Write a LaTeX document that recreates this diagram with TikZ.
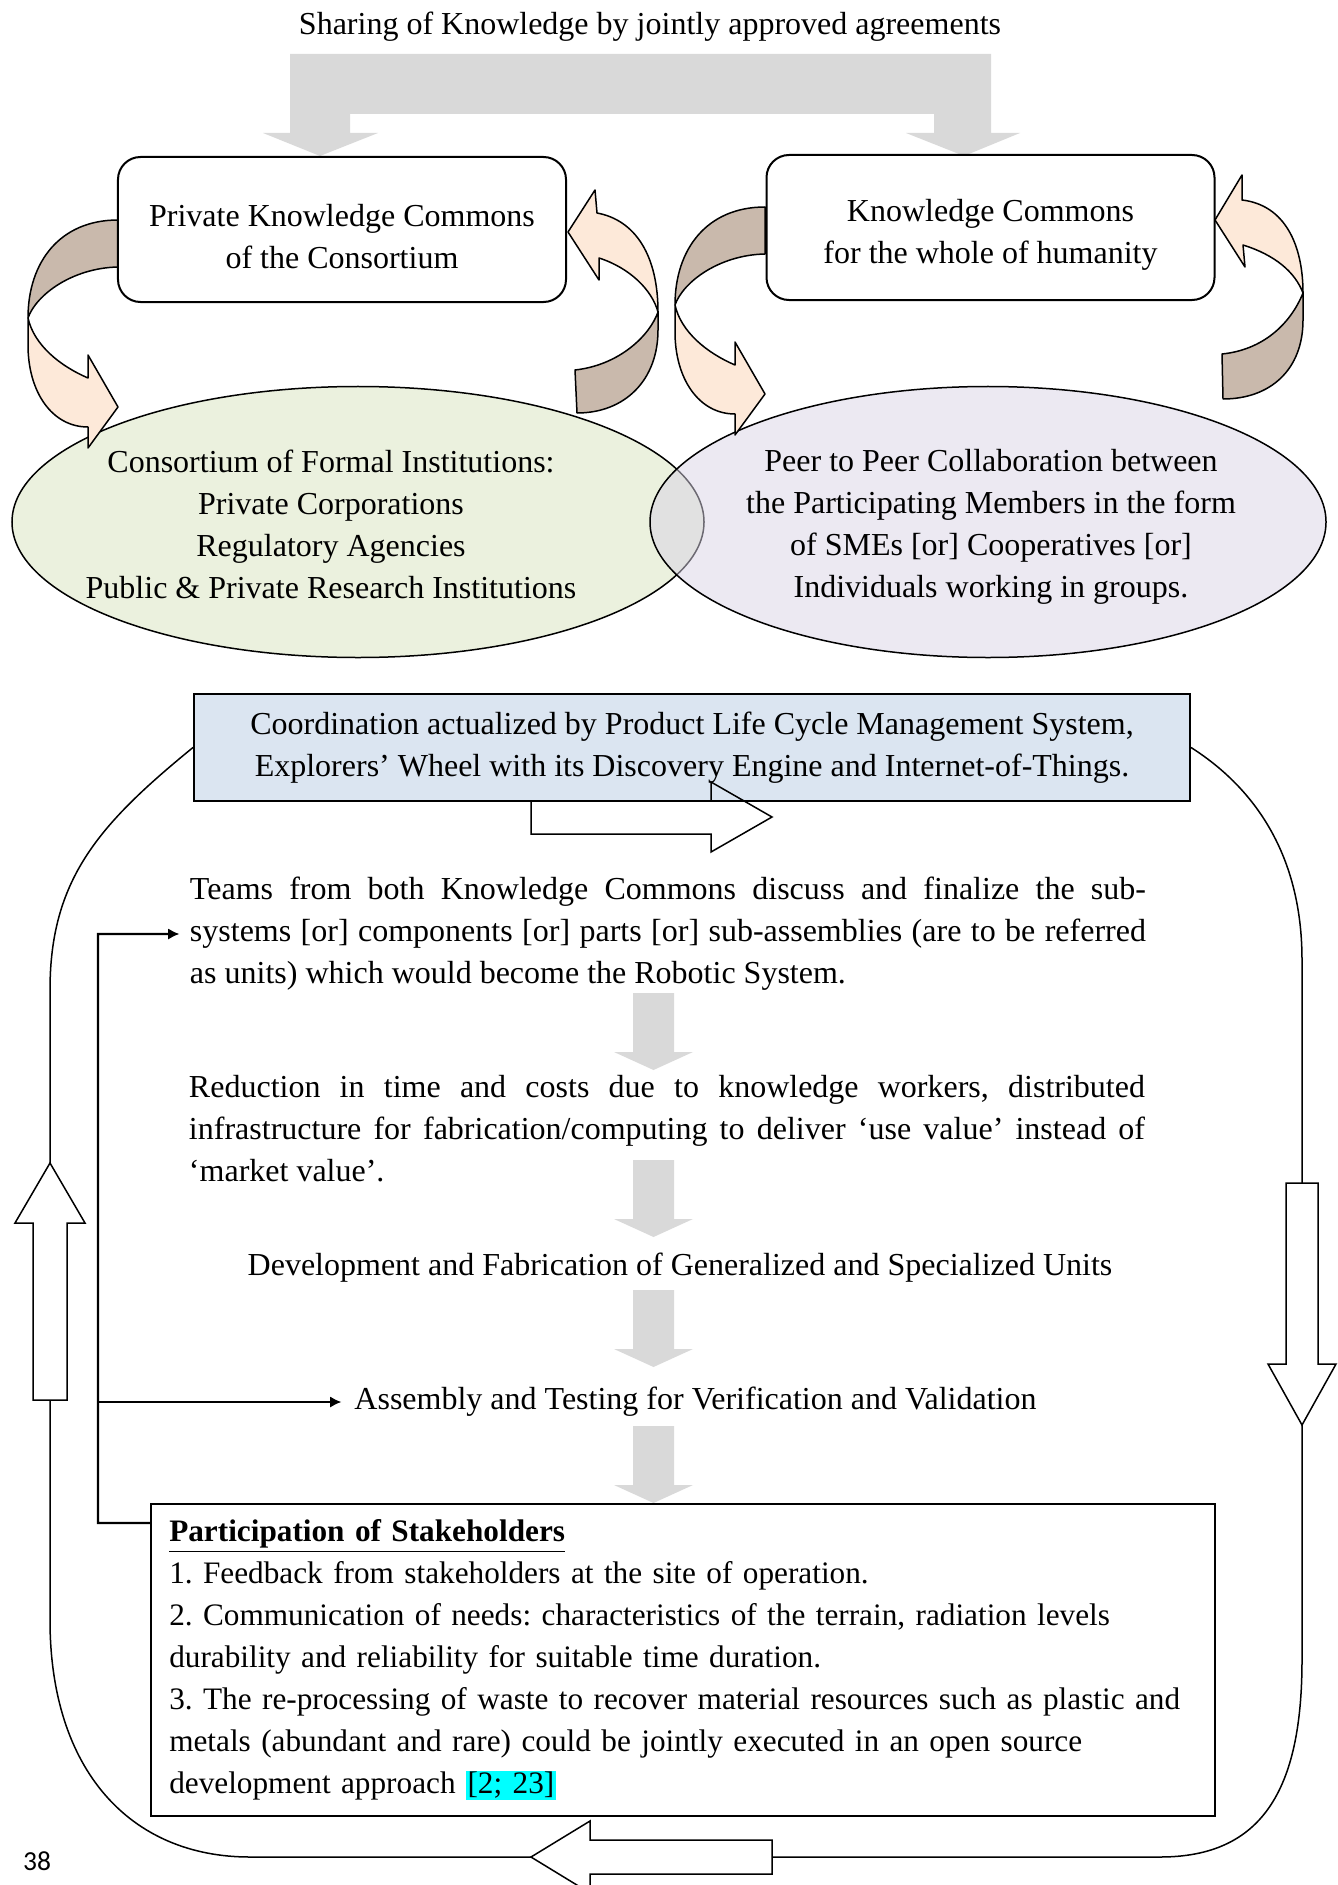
\documentclass[tikz,border=0pt]{standalone}
\usepackage{fontspec}
\setmainfont{Liberation Serif}
\newfontfamily\pagefont{Carlito}
\usepackage{tikz}
\usetikzlibrary{shapes.geometric, arrows.meta}

\definecolor{blockgray}{HTML}{D9D9D9}
\definecolor{tanback}{HTML}{C9B9AC}
\definecolor{peach}{HTML}{FDE9D9}
\definecolor{olivelight}{HTML}{EBF1DE}
\definecolor{lilac}{HTML}{D9D3E5}
\definecolor{bluelight}{HTML}{DBE5F1}
\definecolor{citecyan}{RGB}{0,255,255}

\tikzset{
  backband/.style={fill=tanback, draw, line width=0.6pt, line join=round},
  frontband/.style={fill=peach, draw, line width=0.6pt, line join=round},
  kcbox/.style={draw, fill=white, rounded corners=9pt, line width=0.8pt,
    minimum width=179.2pt, minimum height=58pt, align=center},
  hollow/.style={draw, line width=0.6pt, line join=miter},
  cycleline/.style={draw, line width=0.6pt},
  para/.style={text width=382.4pt, align=justify, inner xsep=4pt},
  feed/.style={line width=0.9pt, -{Latex[length=4.5pt, width=4.5pt]}}
}

\begin{document}
\frenchspacing
\begin{tikzpicture}[x=0.4pt, y=-0.4pt,
  every node/.style={font=\fontsize{12.8}{16.8}\selectfont, inner sep=0pt}]
        \useasboundingbox (0,0) rectangle (1338,1885);
        \clip (0,0) rectangle (1338,1885);

        \node (title) at (650,27) {Sharing of Knowledge by jointly approved agreements};
        \fill [blockgray] (290,54) -- (991,54) -- (991,133) -- (1020,133) -- (964,156)
              -- (906,133) -- (934,133) -- (934,114) -- (350,114) -- (350,133)
              -- (378,133) -- (320,156) -- (263,133) -- (290,133) -- cycle;   %sharing

        \node [ellipse, draw, line width=0.6pt, fill=olivelight,
               minimum width=276.8pt, minimum height=108.4pt] (formal) at (358,522) {};
        \node [ellipse, draw, line width=0.6pt, fill=lilac, fill opacity=0.5,
               minimum width=270.4pt, minimum height=108.4pt] (peer) at (988,522) {};
        \node [align=center] (formaltxt) at (331,524) {Consortium of Formal Institutions:\\
              Private Corporations\\ Regulatory Agencies\\ Public \& Private Research Institutions};
        \node [align=center] (peertxt) at (991,527) {Peer to Peer Collaboration between\\
              the Participating Members in the form\\ of SMEs [or] Cooperatives [or]\\
              Individuals working in groups.};

        %curved arrows, left pair
        \filldraw [backband]  (118,220) .. controls (60,220) and (28,262) .. (28,318)
              .. controls (36,295) and (72,268) .. (118,267) -- cycle;
        \filldraw [frontband] (28,318) -- (28,345) .. controls (28,392) and (52,427) .. (88,427)
              -- (88,448) -- (118,407) -- (88,355) -- (88,378)
              .. controls (60,366) and (34,345) .. (28,318) -- cycle;
        \filldraw [frontband] (658,312) .. controls (658,255) and (635,220) .. (597,213)
              -- (595,190) -- (568,232) -- (599,280) -- (599,258)
              .. controls (630,268) and (652,290) .. (658,312) -- cycle;
        \filldraw [backband]  (658,312) -- (658,330) .. controls (658,380) and (625,413) .. (577,413)
              -- (575,370) .. controls (620,365) and (650,335) .. (658,312) -- cycle;
        %curved arrows, right pair
        \begin{scope}[shift={(647,-13)}]
        \filldraw [backband]  (118,220) .. controls (60,220) and (28,262) .. (28,318)
              .. controls (36,295) and (72,268) .. (118,267) -- cycle;
        \filldraw [frontband] (28,318) -- (28,345) .. controls (28,392) and (52,427) .. (88,427)
              -- (88,448) -- (118,407) -- (88,355) -- (88,378)
              .. controls (60,366) and (34,345) .. (28,318) -- cycle;
        \end{scope}
        \filldraw [frontband] (1303,293) .. controls (1303,245) and (1285,205) .. (1242,200)
              -- (1242,175) -- (1215,220) -- (1245,267) -- (1243,245)
              .. controls (1275,255) and (1295,272) .. (1303,293) -- cycle;
        \filldraw [backband]  (1303,293) -- (1303,320) .. controls (1303,370) and (1270,399) .. (1223,399)
              -- (1222,354) .. controls (1262,350) and (1290,325) .. (1303,293) -- cycle;

        \node [kcbox] (privkc) at (342,229.5) {\rule{0pt}{14.6pt}Private Knowledge Commons\\ of the Consortium};
        \node [kcbox] (humkc) at (990.5,227.5) {\rule{0pt}{14.6pt}Knowledge Commons\\ for the whole of humanity};

        %PLM box and the outer cycle
        \node [draw, fill=bluelight, line width=0.8pt, minimum width=398.4pt, minimum height=42.8pt,
               align=center] (coord) at (692,747.5) {Coordination actualized by Product Life Cycle Management System,\\
              Explorers' Wheel with its Discovery Engine and Internet-of-Things.};
        \draw [hollow] (772,817) -- (711,782) -- (711,801) -- (531,801) -- (531,834)
              -- (711,834) -- (711,852) -- cycle;                                 %to the right

        \coordinate (uptip)    at (50,1163);
        \coordinate (upend)    at (50,1400);
        \coordinate (lefttip)  at (531,1857);
        \coordinate (leftend)  at (772,1857);
        \coordinate (downtip)  at (1302,1425);
        \coordinate (downend)  at (1302,1183);
        \filldraw [hollow, fill=white] (uptip) -- (85,1223) -- (67,1223) -- (67,1400)
              -- (33,1400) -- (33,1223) -- (15,1223) -- cycle;                   %up
        \filldraw [hollow, fill=white] (downtip) -- (1336,1364) -- (1318,1364) -- (1318,1183)
              -- (1286,1183) -- (1286,1364) -- (1268,1364) -- cycle;             %down
        \filldraw [hollow, fill=white] (lefttip) -- (590,1821) -- (590,1840) -- (772,1840)
              -- (772,1874) -- (590,1874) -- (590,1893) -- cycle;                %back
        \draw [cycleline] (coord.west) .. controls (98,825) and (50,880) .. (50,990) -- (uptip);
        \draw [cycleline] (upend) -- (50,1620) .. controls (50,1770) and (130,1857) .. (250,1857) -- (lefttip);
        \draw [cycleline] (leftend) -- (1160,1857) .. controls (1262,1857) and (1302,1790) .. (1302,1660) -- (downtip);
        \draw [cycleline] (downend) -- (1302,960) .. controls (1302,850) and (1250,785) .. (coord.east);

        %steps
        \node [para] (teams) at (668,934) {Teams from both Knowledge Commons discuss and finalize the sub-\linebreak
              systems [or] components [or] parts [or] sub-assemblies (are to be referred\linebreak
              as units) which would become the Robotic System.};
        \node [para] (reduce) at (667,1129) {Reduction in time and costs due to knowledge workers, distributed\linebreak
              infrastructure for fabrication/computing to deliver `use value' instead of\linebreak
              `market value'.};
        \node (devfab) at (680,1268) {Development and Fabrication of Generalized and Specialized Units};
        \node [inner xsep=5pt] (assembly) at (695.5,1402) {Assembly and Testing for Verification and Validation};
        \foreach \y in {993,1160,1290,1426}
          \fill [blockgray] (633,\y) -- (674,\y) -- (674,\y+59) -- (693,\y+59) -- (653.5,\y+77)
                -- (614,\y+59) -- (633,\y+59) -- cycle;

        \node [draw, line width=0.8pt, anchor=north west, minimum width=425.6pt, minimum height=124.8pt,
               text width=411pt, inner xsep=7.3pt, align=left, font=\fontsize{12.5}{16.8}\selectfont]
              (stake) at (150,1503)
              {\underline{\textbf{Participation of Stakeholders}}\\
               1. Feedback from stakeholders at the site of operation.\\
               2. Communication of needs: characteristics of the terrain, radiation levels\\
               durability and reliability for suitable time duration.\\
               3. The re-processing of waste to recover material resources such as plastic and\\
               metals (abundant and rare) could be jointly executed in an open source\\
               development approach {\setlength{\fboxsep}{0.6pt}\colorbox{citecyan}{[2; 23]}}};

        %feedback
        \coordinate (fb) at (98,1523);
        \draw [feed] ([yshift=-8pt]stake.north west) -- (fb) -- (fb |- teams.west) -- (teams.west);
        \draw [feed] (fb |- assembly.west) -- (assembly.west);

        \node [font=\pagefont\fontsize{11}{13}\selectfont] (pagenum) at (37,1861) {38};
\end{tikzpicture}
\end{document}
